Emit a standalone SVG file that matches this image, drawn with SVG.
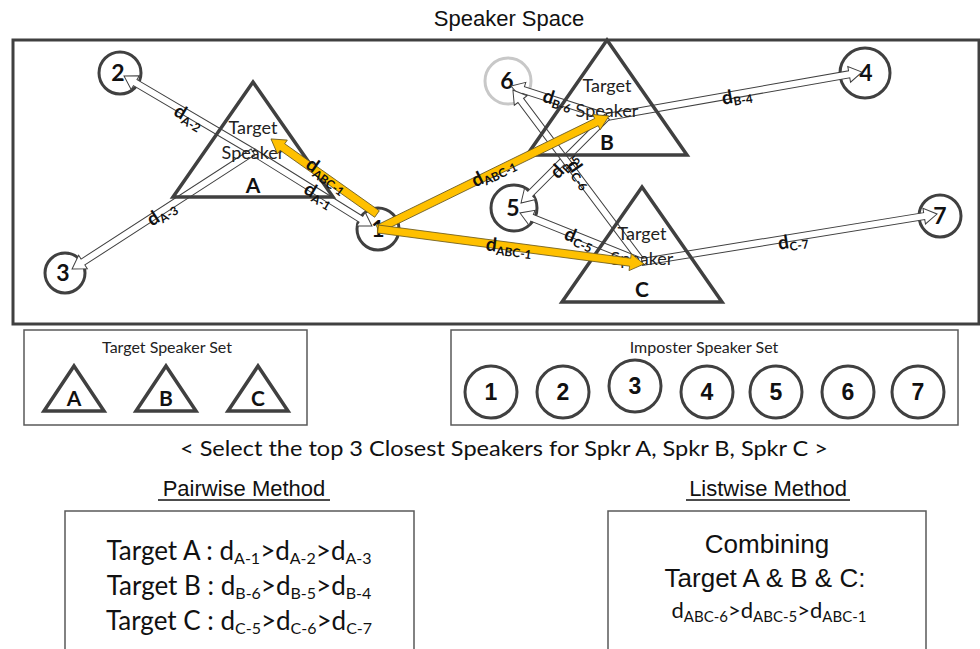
<svg xmlns="http://www.w3.org/2000/svg" width="980" height="649" viewBox="0 0 980 649">
<style>
.frame{fill:none;stroke:#404040;stroke-width:3}
.box{fill:#fff;stroke:#595959;stroke-width:1.5}
.tri{fill:none;stroke:#404040;stroke-width:3.5;stroke-linejoin:miter}
.circ{fill:#fff;stroke:#404040;stroke-width:3}
.circ6{fill:#fff;stroke:#c8c8c8;stroke-width:3}
.gar{fill:#fff;stroke:#404040;stroke-width:1}
.yar{fill:#FFC000;stroke:#6b5a1e;stroke-width:0.8}
.cal{font-family:Lato,"Open Sans","DejaVu Sans",sans-serif}
.ari{font-family:"Liberation Sans",Arial,sans-serif}
.num{font-family:Lato,"Open Sans",sans-serif;font-weight:700;font-size:23px;fill:#111;text-anchor:middle}
.inum{font-family:"Liberation Sans",Arial,sans-serif;font-weight:700;font-size:23px;fill:#111;text-anchor:middle}
.tlab{font-family:Lato,"Open Sans",sans-serif;font-size:18px;fill:#222;text-anchor:middle}
.tlet{font-family:Lato,"Open Sans",sans-serif;font-weight:700;font-size:21px;fill:#111;text-anchor:middle}
.dl{font-family:Lato,"Open Sans",sans-serif;font-weight:700;font-size:19px;fill:#111}
.sub{font-size:12px}
</style>

<text x="509" y="26" class="ari" font-size="22" text-anchor="middle" fill="#111">Speaker Space</text>
<rect class="frame" x="13" y="40" width="966" height="284"/>

<!-- imposter circles in the space -->
<g id="node-2"><circle class="circ" cx="120" cy="73" r="21"/><text class="num" x="118" y="81">2</text></g>
<g id="node-3"><circle class="circ" cx="65" cy="273" r="20"/><text class="num" x="63" y="281">3</text></g>
<g id="node-1"><circle class="circ" cx="378" cy="229" r="21"/><text class="num" x="378" y="237">1</text></g>
<g id="node-6"><circle class="circ6" cx="508" cy="81" r="23"/><text class="num" x="507" y="89">6</text></g>
<g id="node-5"><circle class="circ" cx="514" cy="208" r="23"/><text class="num" x="513" y="216">5</text></g>
<g id="node-4"><circle class="circ" cx="865" cy="73" r="25"/><text class="num" x="866" y="81">4</text></g>
<g id="node-7"><circle class="circ" cx="940" cy="216" r="21"/><text class="num" x="940" y="224">7</text></g>

<!-- distance connectors -->
<g id="connectors">
<path class="gar" transform="translate(253,152) rotate(-149.5)" d="M0,-3.5H136.7V-8L149.7,0L136.7,8V3.5H0Z"/>
<path class="gar" transform="translate(253,152) rotate(31.9)" d="M0,-3.5H127.1V-8L140.1,0L127.1,8V3.5H0Z"/>
<path class="gar" transform="translate(253,152) rotate(147.1)" d="M0,-3.5H202.5V-8L215.5,0L202.5,8V3.5H0Z"/>
<path class="gar" transform="translate(607,117) rotate(-162.1)" d="M0,-3.5H87.9V-8L100.9,0L87.9,8V3.5H0Z"/>
<path class="gar" transform="translate(607,117) rotate(-10)" d="M0,-3.5H245.9V-8L258.9,0L245.9,8V3.5H0Z"/>
<path class="gar" transform="translate(607,117) rotate(135)" d="M0,-3.5H108.6V-8L121.6,0L108.6,8V3.5H0Z"/>
<path class="gar" transform="translate(642,262) rotate(-126.9)" d="M0,-3.5H202V-8L215,0L202,8V3.5H0Z"/>
<path class="gar" transform="translate(642,262) rotate(-158.1)" d="M0,-3.5H118.5V-8L131.5,0L118.5,8V3.5H0Z"/>
<path class="gar" transform="translate(642,262) rotate(-9.24)" d="M0,-3.5H285.9V-8L298.9,0L285.9,8V3.5H0Z"/>
</g>

<!-- target speakers -->
<g id="target-A">
<polygon class="tri" points="253,82 333,197 173,197"/>
<text class="tlab" x="253" y="134">Target</text>
<text class="tlab" x="253" y="159">Speaker</text>
<text class="tlet" x="253" y="193">A</text>
</g>
<g id="target-B">
<polygon class="tri" points="607,40 687,155 527,155"/>
<text class="tlab" x="607" y="92">Target</text>
<text class="tlab" x="607" y="117">Speaker</text>
<text class="tlet" x="607" y="150">B</text>
</g>
<g id="target-C">
<polygon class="tri" points="642,187 722,302 562,302"/>
<text class="tlab" x="642" y="240">Target</text>
<text class="tlab" x="642" y="265">Speaker</text>
<text class="tlet" x="642" y="297">C</text>
</g>

<!-- highlighted listwise connectors -->
<g id="connectors-abc">
<path class="yar" transform="translate(377,214) rotate(-144.7)" d="M0,-4H115.9V-8.5L129.9,0L115.9,8.5V4H0Z"/>
<path class="yar" transform="translate(378,229) rotate(-26.07)" d="M0,-4H243.2V-8.5L257.2,0L243.2,8.5V4H0Z"/>
<path class="yar" transform="translate(378,229) rotate(7.5)" d="M0,-4H254.3V-8.5L268.3,0L254.3,8.5V4H0Z"/>
</g>

<!-- connector labels -->
<g id="labels">
<text class="dl" transform="translate(180,112) rotate(31)" x="-5" y="6">d<tspan class="sub" dy="3">A-2</tspan></text>
<text class="dl" transform="translate(310,190) rotate(31)" x="-5" y="6">d<tspan class="sub" dy="3">A-1</tspan></text>
<text class="dl" transform="translate(312,165) rotate(36)" x="-5" y="6">d<tspan class="sub" dy="3">ABC-1</tspan></text>
<text class="dl" transform="translate(153,219) rotate(-33)" x="-5" y="6">d<tspan class="sub" dy="3">A-3</tspan></text>
<text class="dl" transform="translate(477,180) rotate(-26)" x="-5" y="6">d<tspan class="sub" dy="3">ABC-1</tspan></text>
<text class="dl" transform="translate(491,245) rotate(7)" x="-5" y="6">d<tspan class="sub" dy="3">ABC-1</tspan></text>
<text class="dl" transform="translate(548,97) rotate(18)" x="-5" y="6">d<tspan class="sub" dy="3">B-6</tspan></text>
<text class="dl" transform="translate(727,98) rotate(-10)" x="-5" y="6">d<tspan class="sub" dy="3">B-4</tspan></text>
<text class="dl" transform="translate(783,243) rotate(-9)" x="-5" y="6">d<tspan class="sub" dy="3">C-7</tspan></text>
<text class="dl" transform="translate(570,235) rotate(22)" x="-5" y="6">d<tspan class="sub" dy="3">C-5</tspan></text>
<text class="dl" transform="translate(557,172) rotate(-45)" x="-5" y="6">d<tspan class="sub" dy="3">B-5</tspan></text>
<text class="dl" transform="translate(574,166) rotate(55)" x="-5" y="6">d<tspan class="sub" dy="3">C-6</tspan></text>
</g>

<!-- target speaker set -->
<g id="target-set">
<rect class="box" x="24" y="330" width="283" height="95"/>
<text class="cal" x="167" y="353" font-size="16" text-anchor="middle" fill="#222">Target Speaker Set</text>
<g id="set-A"><polygon class="tri" points="74,366 104,411 44,411"/><text class="tlet" x="74" y="406" font-size="20">A</text></g>
<g id="set-B"><polygon class="tri" points="166,366 196,411 136,411"/><text class="tlet" x="166" y="406" font-size="20">B</text></g>
<g id="set-C"><polygon class="tri" points="258,366 288,411 228,411"/><text class="tlet" x="258" y="406" font-size="20">C</text></g>
</g>

<!-- imposter speaker set -->
<g id="imposter-set">
<rect class="box" x="451" y="330" width="507" height="95"/>
<text class="cal" x="704" y="353" font-size="16" text-anchor="middle" fill="#222">Imposter Speaker Set</text>
<g id="set-1"><circle class="circ" cx="491" cy="392" r="26"/><text class="inum" x="491" y="400">1</text></g>
<g id="set-2"><circle class="circ" cx="563" cy="392" r="26"/><text class="inum" x="563" y="400">2</text></g>
<g id="set-3"><circle class="circ" cx="635" cy="386" r="26"/><text class="inum" x="635" y="394">3</text></g>
<g id="set-4"><circle class="circ" cx="707" cy="392" r="26"/><text class="inum" x="707" y="400">4</text></g>
<g id="set-5"><circle class="circ" cx="776" cy="392" r="26"/><text class="inum" x="776" y="400">5</text></g>
<g id="set-6"><circle class="circ" cx="848" cy="392" r="26"/><text class="inum" x="848" y="400">6</text></g>
<g id="set-7"><circle class="circ" cx="918" cy="392" r="26"/><text class="inum" x="918" y="400">7</text></g>
</g>

<text class="cal" x="504" y="456" font-size="21" text-anchor="middle" fill="#111" textLength="648" lengthAdjust="spacingAndGlyphs">&lt; Select the top 3 Closest Speakers for Spkr A, Spkr B, Spkr C &gt;</text>

<!-- pairwise -->
<g id="pairwise">
<text class="ari" x="244" y="496" font-size="22" text-anchor="middle" fill="#111">Pairwise Method</text>
<line x1="158" y1="500" x2="330" y2="500" stroke="#111" stroke-width="1.3"/>
<rect class="box" x="65" y="511" width="349" height="150"/>
<text class="cal" x="239" y="560" font-size="26" text-anchor="middle" fill="#111">Target A : d<tspan font-size="16" dy="4">A-1</tspan><tspan dy="-4">&gt;d</tspan><tspan font-size="16" dy="4">A-2</tspan><tspan dy="-4">&gt;d</tspan><tspan font-size="16" dy="4">A-3</tspan></text>
<text class="cal" x="239" y="595" font-size="26" text-anchor="middle" fill="#111">Target B : d<tspan font-size="16" dy="4">B-6</tspan><tspan dy="-4">&gt;d</tspan><tspan font-size="16" dy="4">B-5</tspan><tspan dy="-4">&gt;d</tspan><tspan font-size="16" dy="4">B-4</tspan></text>
<text class="cal" x="239" y="630" font-size="26" text-anchor="middle" fill="#111">Target C : d<tspan font-size="16" dy="4">C-5</tspan><tspan dy="-4">&gt;d</tspan><tspan font-size="16" dy="4">C-6</tspan><tspan dy="-4">&gt;d</tspan><tspan font-size="16" dy="4">C-7</tspan></text>
</g>

<!-- listwise -->
<g id="listwise">
<text class="ari" x="768" y="496" font-size="22" text-anchor="middle" fill="#111">Listwise Method</text>
<line x1="686" y1="500" x2="850" y2="500" stroke="#111" stroke-width="1.3"/>
<rect class="box" x="608" y="511" width="318" height="150"/>
<text class="ari" x="767" y="553" font-size="26" text-anchor="middle" fill="#111">Combining</text>
<text class="ari" x="765" y="587" font-size="26" text-anchor="middle" fill="#111">Target A &amp; B &amp; C:</text>
<text class="cal" x="769" y="618" font-size="22" text-anchor="middle" fill="#111">d<tspan font-size="15" dy="4">ABC-6</tspan><tspan dy="-4">&gt;d</tspan><tspan font-size="15" dy="4">ABC-5</tspan><tspan dy="-4">&gt;d</tspan><tspan font-size="15" dy="4">ABC-1</tspan></text>
</g>
</svg>
